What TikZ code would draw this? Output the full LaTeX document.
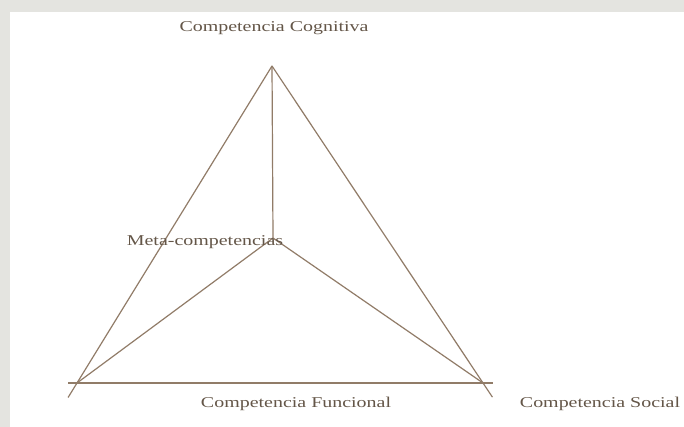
\documentclass[tikz,border=0pt]{standalone}
\usepackage{fontspec}
\setmainfont{Liberation Serif}
\usepackage{xcolor}
\definecolor{framegrey}{RGB}{228,228,224}
\definecolor{edgebrown}{RGB}{145,124,104}
\definecolor{labelbrown}{RGB}{100,86,72}
\tikzset{
  side/.style={draw=edgebrown, line width=1.2pt},
  complabel/.style={text=labelbrown, font=\fontsize{15}{17}\selectfont, xscale=1.33, inner sep=0pt}
}

\begin{document}
\begin{tikzpicture}[x=1pt,y=-1pt]

\fill[framegrey] (0,0) rectangle (684,427);
\fill[white] (10,12) rectangle (684,427);
\useasboundingbox (0,0) rectangle (684,427);

\coordinate (cog) at (272,66);
\coordinate (fun) at (77,383);
\coordinate (soc) at (483,383);
\coordinate (meta) at (273,238);

\draw[side, shorten >=-17pt] (cog) -- (fun);
\draw[side, shorten >=-17pt] (cog) -- (soc);
\draw[side, shorten <=-9pt, shorten >=-10pt] (fun) -- (soc);
\draw[side] (cog) -- (meta);
\draw[side] (meta) -- (fun);
\draw[side] (meta) -- (soc);

\node[complabel] (cogtext) at (274,28) {Competencia Cognitiva};
\node[complabel] (metatext) at (205,242) {Meta-competencias};
\node[complabel] (funtext) at (296,404) {Competencia Funcional};
\node[complabel] (soctext) at (600,404) {Competencia Social};

\end{tikzpicture}
\end{document}
